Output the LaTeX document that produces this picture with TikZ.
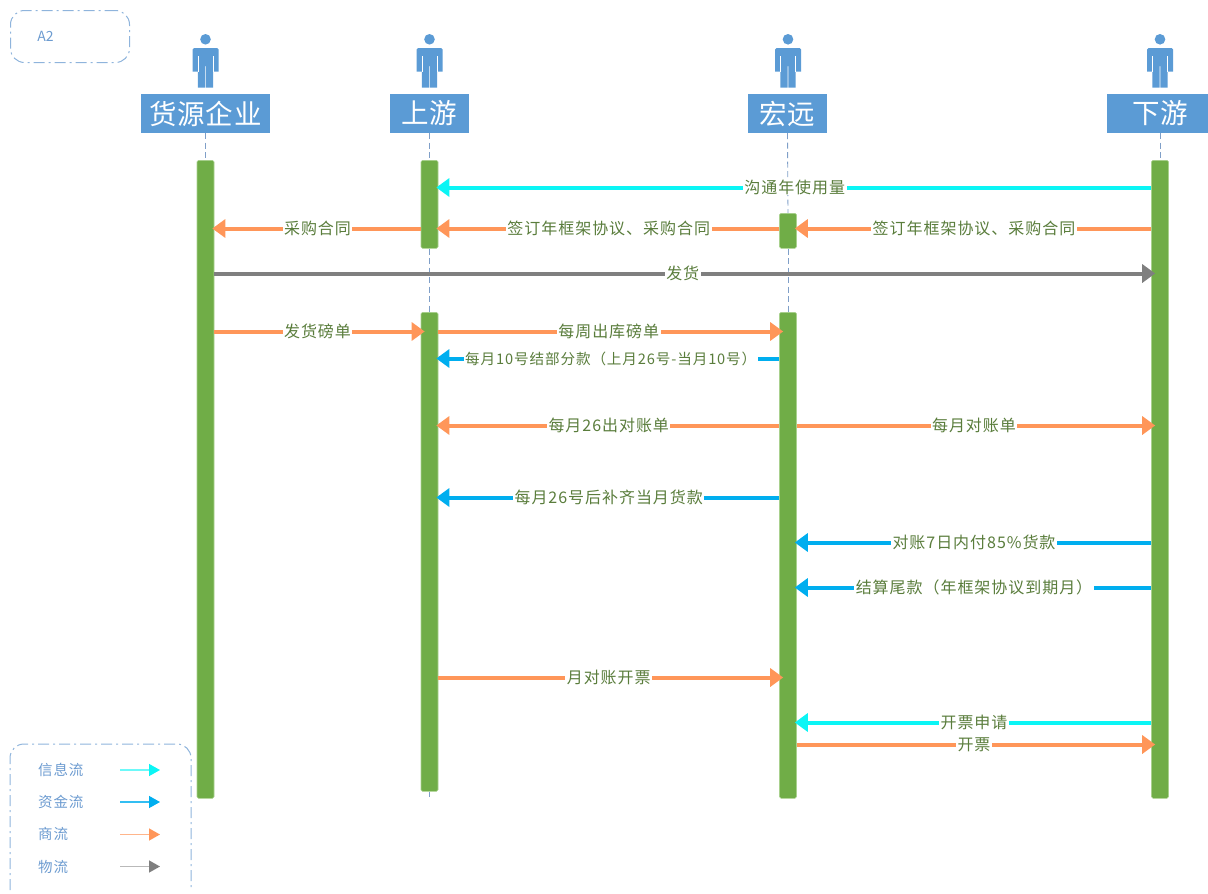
\documentclass[tikz,border=0pt]{standalone}
\usepackage{fontspec}
\setmainfont{Noto Sans CJK SC}
\newfontfamily\lblfont[LetterSpace=6]{Noto Sans CJK SC}
\newfontfamily\headfont[LetterSpace=3]{Noto Sans CJK SC}
\usetikzlibrary{arrows.meta}
\definecolor{hdr}{HTML}{5B9BD5}
\definecolor{barg}{HTML}{70AD47}
\definecolor{barb}{HTML}{A9D18E}
\definecolor{fcyan}{HTML}{0BF5F5}
\definecolor{fblue}{HTML}{00AEEF}
\definecolor{forange}{HTML}{FF9659}
\definecolor{fgrey}{HTML}{7F7F7F}
\definecolor{lblg}{HTML}{5A7D3C}
\definecolor{frameb}{HTML}{8FB4DC}
\definecolor{lifeb}{HTML}{7F9FC8}
\definecolor{txtb}{HTML}{6C9BD0}
\tikzset{
  x=1pt,y=-1pt,
  header/.style={fill=hdr,text=white,minimum height=39pt,inner sep=0pt,font=\headfont\fontsize{27.5}{30}\selectfont},
  actbar/.style={fill=barg,draw=barb,line width=.6pt,rounded corners=1.5pt,minimum width=17pt,inner sep=0pt},
  lifeline/.style={draw=lifeb,line width=.9pt,dash pattern=on 6pt off 3.5pt},
  flow/.style={line width=4pt,-{Triangle[length=13pt,width=18pt]},shorten >=-2pt},
  rt/.style={shorten >=-4pt},
  fcy/.style={flow,draw=fcyan,color=fcyan},
  fbl/.style={flow,draw=fblue,color=fblue},
  for/.style={flow,draw=forange,color=forange},
  fgr/.style={flow,draw=fgrey,color=fgrey},
  lab/.style={fill=white,text=lblg,inner xsep=1.5pt,inner ysep=0pt,font=\lblfont\fontsize{16}{18}\selectfont},
  labs/.style={lab,xshift=2pt,font=\lblfont\fontsize{14.6}{17}\selectfont},
  frame/.style={draw=frameb,line width=1pt,dash pattern=on 11pt off 4pt on 2pt off 4pt},
  legtxt/.style={text=txtb,inner sep=0pt,anchor=west,font=\lblfont\fontsize{14.5}{16}\selectfont},
  legline/.style={line width=1.4pt},
  person/.pic={
    \fill[hdr] (0,-0.7) circle (5.3pt);
    \fill[hdr] (-13,11) [rounded corners=1.5pt] -- (-13,8) -- (13,8) [sharp corners] -- (13,31.7) -- (7.6,31.7) -- (7.6,47.7)
      -- (0.4,47.7) -- (0.4,26) -- (-0.4,26) -- (-0.4,47.7) -- (-7.6,47.7) -- (-7.6,31.7) -- (-13,31.7) -- cycle;
    \draw[white,line width=.6pt] (-7.6,16) -- (-7.6,32) (7.6,16) -- (7.6,32);
  }
}
\newcommand{\actnode}[4]{\node[actbar,minimum height=#4-#3,anchor=north] (#1) at (#2,#3) {};}
\newcommand{\flowto}[6][lab]{\draw[#4] (#2 |- 0,#3+0.5) -- node[#1]{#6} (#5 |- 0,#3+0.5);}
\begin{document}
\begin{tikzpicture}
\useasboundingbox (0,0) rectangle (1208,894);

% frames
\node[frame,rounded corners=14pt,minimum width=119pt,minimum height=52pt,anchor=north west,inner sep=0pt] (boxA) at (10,10) {};
\node[text=txtb,inner sep=0pt,font=\fontsize{14}{16}\selectfont] (tA) at (45.5,36) {A2};
\draw[frame,rounded corners=14pt] (10,890) coordinate (legBL) -- (10,744) -- (191,744) -- (191,890);

% persons
\pic at (205.5,40) {person};
\pic at (429.5,40) {person};
\pic at (788,40) {person};
\pic at (1160,40) {person};

% headers
\node[header,minimum width=129pt] (G) at (205.5,113.5) {货源企业};
\node[header,minimum width=79pt] (U) at (429.5,113.5) {上游};
\node[header,minimum width=79pt] (H) at (787.5,113.5) {宏远};
\node[header,minimum width=106pt] (D) at (1160,113.5) {下游};

% activation bars
\actnode{G1}{205.5}{160}{798}
\actnode{U1}{429.5}{160}{248}
\actnode{U2}{429.5}{312}{791}
\actnode{H1}{788}{213}{248}
\actnode{H2}{788}{312}{798}
\actnode{D1}{1160}{160}{798}

% lifelines
\draw[lifeline] (G.south) -- (G1.north);
\draw[lifeline] (U.south) -- (U1.north);
\draw[lifeline] (U1.south) -- (U2.north);
\draw[lifeline] (U2.south) -- ++(0,5);
\draw[lifeline] (H.south) -- (H1.north);
\draw[lifeline] (H1.south) -- (H2.north);
\draw[lifeline] (D.south) -- (D1.north);

% messages
\flowto{D1.west}{187}{fcy}{U1.east}{沟通年使用量}
\flowto{U1.west}{228}{for}{G1.east}{采购合同}
\flowto{H1.west}{228}{for}{U1.east}{签订年框架协议、采购合同}
\flowto{D1.west}{228}{for}{H1.east}{签订年框架协议、采购合同}
\flowto{G1.east}{273}{fgr,rt}{D1.west}{发货}
\flowto{G1.east}{331}{for,rt}{U2.west}{发货磅单}
\flowto{U2.east}{331}{for,rt}{H2.west}{每周出库磅单}
\flowto[labs]{H2.west}{358}{fbl}{U2.east}{每月10号结部分款（上月26号-当月10号）}
\flowto{H2.west}{425}{for}{U2.east}{每月26出对账单}
\flowto{H2.east}{425}{for,rt}{D1.west}{每月对账单}
\flowto{H2.west}{497}{fbl}{U2.east}{每月26号后补齐当月货款}
\flowto{D1.west}{542}{fbl}{H2.east}{对账7日内付85\%货款}
\flowto{D1.west}{587}{fbl}{H2.east}{结算尾款（年框架协议到期月）}
\flowto{U2.east}{677}{for,rt}{H2.west}{月对账开票}
\flowto{D1.west}{722}{fcy}{H2.east}{开票申请}
\flowto{H2.east}{744}{for,rt}{D1.west}{开票}

% legend
\node[legtxt] (L1) at (38,770) {信息流};
\node[legtxt] (L2) at (38,802) {资金流};
\node[legtxt] (L3) at (38,834) {商流};
\node[legtxt] (L4) at (38,866.5) {物流};
\coordinate (E1) at (160,770);
\coordinate (E2) at (160,802);
\coordinate (E3) at (160,834.5);
\coordinate (E4) at (160,866.5);
\draw[legline,draw=fcyan!60,-{Triangle[length=11pt,width=12pt,fill=fcyan,color=fcyan]}] (120,770) -- (E1);
\draw[legline,draw=fblue!80,-{Triangle[length=11pt,width=12pt,fill=fblue,color=fblue]}] (120,802) -- (E2);
\draw[legline,draw=forange!70,-{Triangle[length=11pt,width=12pt,fill=forange,color=forange]}] (120,834.5) -- (E3);
\draw[legline,draw=fgrey!55,-{Triangle[length=11pt,width=12pt,fill=fgrey,color=fgrey]}] (120,866.5) -- (E4);
\end{tikzpicture}
\end{document}
